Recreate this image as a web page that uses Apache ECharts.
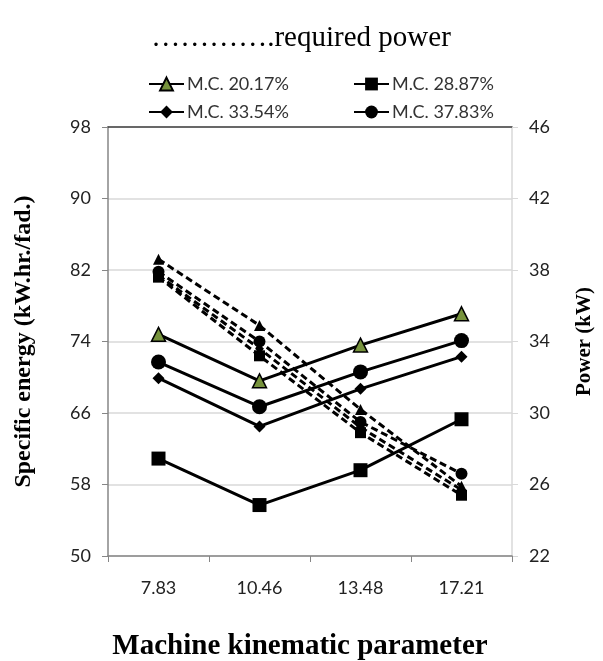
<!DOCTYPE html>
<html>
<head>
<meta charset="utf-8">
<script src="https://cdn.jsdelivr.net/npm/echarts@6/dist/echarts.min.js"></script>
<style>html,body{margin:0;padding:0;background:#fff}#c{width:603px;height:661px}</style>
</head>
<body>
<div id="c"></div>
<script>
const categories = ['7.83', '10.46', '13.48', '17.21'];
const seriesNames = ['M.C. 20.17%', 'M.C. 28.87%', 'M.C. 33.54%', 'M.C. 37.83%'];
// Specific energy (left axis, solid)
const energy2017 = [74.8, 69.6, 73.6, 77.1];
const energy2887 = [60.9, 55.7, 59.6, 65.3];
const energy3354 = [69.9, 64.5, 68.7, 72.3];
const energy3783 = [71.7, 66.7, 70.6, 74.1];
// Required power (right axis, dashed)
const power2017 = [38.6, 34.9, 30.2, 25.9];
const power2887 = [37.6, 33.2, 28.9, 25.4];
const power3354 = [37.7, 33.6, 29.2, 25.7];
const power3783 = [37.9, 34.0, 29.5, 26.6];
const leftTicks = [50, 98, 8];
const rightTicks = [22, 46, 4];

const symbols = ['triangle', 'rect', 'diamond', 'circle'];
const fills = ['#77933C', '#000', '#000', '#000'];
const sizes = [14, 14, 12, 15];
const energy = [energy2017, energy2887, energy3354, energy3783];
const power = [power2017, power2887, power3354, power3783];

const series = [];
for (let i = 0; i < 4; i++) {
  series.push({
    name: seriesNames[i] + ' power', type: 'line', yAxisIndex: 1, data: power[i],
    symbol: symbols[i], symbolSize: sizes[i] - 3,
    itemStyle: {color: '#000'},
    lineStyle: {color: '#000', width: 3, type: [7, 4]},
    z: 2, animation: false
  });
}
for (let i = 0; i < 4; i++) {
  series.push({
    name: seriesNames[i], type: 'line', yAxisIndex: 0, data: energy[i],
    symbol: symbols[i], symbolSize: sizes[i],
    itemStyle: {color: fills[i], borderColor: '#000', borderWidth: i === 0 ? 1.5 : 0},
    lineStyle: {color: '#000', width: 3},
    z: 3, animation: false
  });
}

const legendPos = [[143, 70], [348, 70], [143, 98], [348, 98]];
const legends = seriesNames.map((n, i) => ({
  data: [n], left: legendPos[i][0], top: legendPos[i][1],
  itemWidth: 35, itemHeight: 16, itemGap: 4,
  textStyle: {fontFamily: 'Lato', fontSize: 18, color: '#333', padding: [0, 0, 0, -2]},
  selectedMode: false
}));

const chart = echarts.init(document.getElementById('c'), null, {renderer: 'canvas'});
chart.setOption({
  backgroundColor: '#fff',
  animation: false,
  title: [{
    text: '………….required power', left: 296, textAlign: 'center', top: 19,
    textStyle: {fontFamily: 'Liberation Serif', fontWeight: 'normal', fontSize: 29, color: '#000'}
  }, {
    text: 'Machine kinematic parameter', left: 295, textAlign: 'center', top: 627,
    textStyle: {fontFamily: 'Liberation Serif', fontWeight: 'bold', fontSize: 29, color: '#000'}
  }],
  legend: legends,
  grid: {left: 108, right: 87, top: 127, bottom: 105},
  xAxis: [{
    type: 'category', data: categories, boundaryGap: true,
    axisLine: {lineStyle: {color: '#868686', width: 1.5}},
    axisTick: {show: true, alignWithLabel: false, length: 6, lineStyle: {color: '#868686'}},
    axisLabel: {fontFamily: 'Lato', fontSize: 18, color: '#222', margin: 23}
  }, {
    type: 'category', data: categories, position: 'top',
    axisLine: {lineStyle: {color: '#404040', width: 1.5}},
    axisTick: {show: false}, axisLabel: {show: false}
  }],
  yAxis: [{
    type: 'value', min: leftTicks[0], max: leftTicks[1], interval: leftTicks[2],
    name: 'Specific energy (kW.hr./fad.)', nameLocation: 'middle', nameGap: 72, nameRotate: 90,
    nameTextStyle: {fontFamily: 'Liberation Serif', fontWeight: 'bold', fontSize: 24, color: '#000'},
    axisLine: {show: true, lineStyle: {color: '#868686', width: 1.5}},
    axisTick: {show: true, length: 6, lineStyle: {color: '#868686'}},
    axisLabel: {fontFamily: 'Lato', fontSize: 18, color: '#222', margin: 17},
    splitLine: {show: true, lineStyle: {color: '#d9d9d9', width: 1.5}}
  }, {
    type: 'value', min: rightTicks[0], max: rightTicks[1], interval: rightTicks[2], position: 'right',
    name: 'Power (kW)', nameLocation: 'middle', nameGap: 62, nameRotate: 90,
    nameTextStyle: {fontFamily: 'Liberation Serif', fontWeight: 'bold', fontSize: 21, color: '#000'},
    axisLine: {show: true, lineStyle: {color: '#d9d9d9', width: 1.5}},
    axisTick: {show: true, length: 6, lineStyle: {color: '#d9d9d9'}},
    axisLabel: {fontFamily: 'Lato', fontSize: 18, color: '#222', margin: 17},
    splitLine: {show: false}
  }],
  series: series
});
</script>
</body>
</html>
